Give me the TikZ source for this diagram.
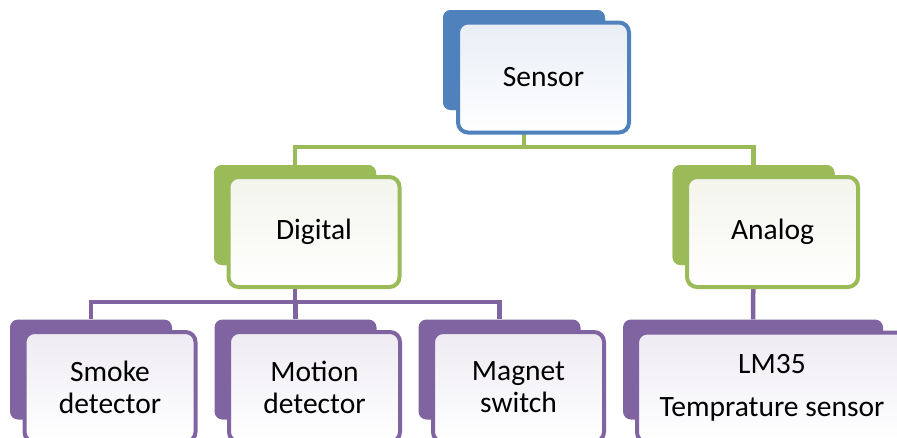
\documentclass[tikz,border=0pt]{standalone}
\usepackage{fontspec}
\setmainfont{Carlito}
\definecolor{cblue}{HTML}{4F81BD}
\definecolor{cgreen}{HTML}{9BBB59}
\definecolor{cpurple}{HTML}{8064A2}
\definecolor{tblue}{HTML}{E8EDF5}
\definecolor{tgreen}{HTML}{F3F5EC}
\definecolor{tpurple}{HTML}{EEEBF2}
\tikzset{
  backbox/.style={rectangle, rounded corners=8pt, fill=#1, draw=none,
    minimum width=162pt, minimum height=100pt, inner sep=0pt},
  frontbox/.style 2 args={rectangle, rounded corners=10pt, draw=#1, line width=4pt,
    top color=#2, middle color=#2, bottom color=white,
    minimum width=171pt, minimum height=110pt, inner sep=0pt,
    align=center, font=\fontsize{29.5}{32}\selectfont, text=black},
  link/.style={draw=#1, line width=4.5pt},
}
\begin{document}
\begin{tikzpicture}[x=1pt, y=-1pt]
\useasboundingbox (0,0) rectangle (897,437);
\clip (0,0) rectangle (897,437);

% back plates
\node[backbox=cblue]   (sensorB)  at (524,60) {};
\node[backbox=cgreen]  (digitalB) at (295,215) {};
\node[backbox=cgreen]  (analogB)  at (753.5,215) {};
\node[backbox=cpurple] (smokeB)   at (91,369.5) {};
\node[backbox=cpurple] (motionB)  at (295.5,369.5) {};
\node[backbox=cpurple] (magnetB)  at (499.5,369.5) {};
\node[backbox=cpurple, minimum width=260pt] (lmB) at (753,369.5) {};

% connectors, drawn beneath the front panels
\path (sensorB.south) ++(0,37) coordinate (gbar);
\draw[link=cgreen] (sensorB.south) -- (gbar);
\draw[link=cgreen] (digitalB.north) |- (gbar) -| (analogB.north);
\path (digitalB.south) ++(0,37) coordinate (pbar);
\draw[link=cpurple] (digitalB.south) -- (pbar);
\draw[link=cpurple] (smokeB.north) |- (pbar) -| (magnetB.north);
\draw[link=cpurple] (motionB.north) -- (motionB.north |- pbar);
\draw[link=cpurple] (analogB.south) -- (lmB.north);

% redraw back plates over the connector ends
\node[backbox=cblue]   at (sensorB) {};
\node[backbox=cgreen]  at (digitalB) {};
\node[backbox=cgreen]  at (analogB) {};

% front panels with labels
\node[frontbox={cblue}{tblue}]     (sensorF)  at ([shift={(19.5,17.5)}]sensorB.center)  {Sensor};
\node[frontbox={cgreen}{tgreen}]   (digitalF) at ([shift={(19,17)}]digitalB.center)  {Digital};
\node[frontbox={cgreen}{tgreen}]   (analogF)  at ([shift={(19,17)}]analogB.center)   {Analog};
\node[frontbox={cpurple}{tpurple}] (smokeF)   at ([shift={(19,17.5)}]smokeB.center)  {Smoke\\detector};
\node[frontbox={cpurple}{tpurple}] (motionF)  at ([shift={(19,17.5)}]motionB.center) {Motion\\detector};
\node[frontbox={cpurple}{tpurple}] (magnetF)  at ([shift={(19,17.5)}]magnetB.center) {Magnet\\switch};
\node[frontbox={cpurple}{tpurple}, minimum width=270pt] (lmF) at ([shift={(19,18)}]lmB.center) {LM35\\[11pt]Temprature sensor};
\end{tikzpicture}
\end{document}
